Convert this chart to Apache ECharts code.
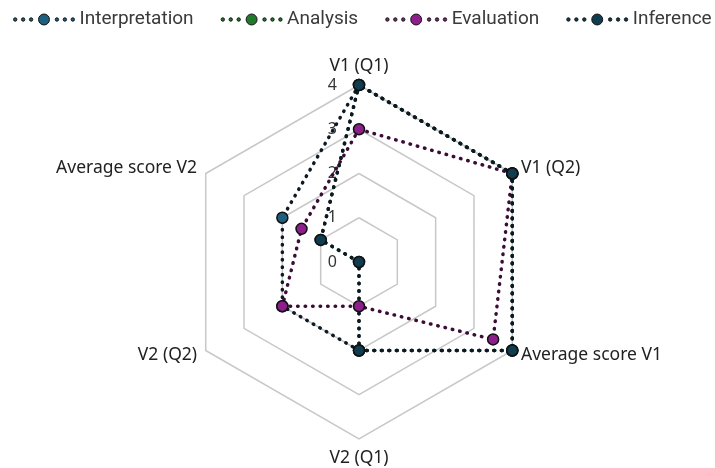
<!DOCTYPE html>
<html>
<head>
<meta charset="utf-8">
<script src="https://cdn.jsdelivr.net/npm/echarts@6/dist/echarts.min.js"></script>
<style>
  html, body { margin: 0; padding: 0; background: #ffffff; }
  #chart { width: 715px; height: 468px; }
</style>
</head>
<body>
<div id="chart"></div>
<script>
// Radar axes, listed clockwise starting from the top
const axisNames = ['V1 (Q1)', 'V1 (Q2)', 'Average score V1', 'V2 (Q1)', 'V2 (Q2)', 'Average score V2'];
const axisMax = 4;
const tickLabels = ['0', '1', '2', '3', '4'];

// Scores per skill, in the same order as axisNames
const seriesNames = ['Interpretation', 'Analysis', 'Evaluation', 'Inference'];
const interpretation = [4, 4, 4, 2, 2, 2];
const analysis = [4, 4, 4, 2, 0, 1];
const evaluation = [3, 4, 3.5, 1, 2, 1.5];
const inference = [4, 4, 4, 2, 0, 1];

const fillColors = ['#1d5f7c', '#1f7a2c', '#8c1f8c', '#0f3c4f'];
const lineColors = ['#0d1a24', '#0c2a12', '#3c0c36', '#0a1a22'];

// ECharts lays radar indicators out counter-clockwise, so walk the axes backwards
const order = [0, 5, 4, 3, 2, 1];
const reorder = arr => order.map(i => arr[i]);

// Legend icon: three dots, a marker, three dots
const legendIcon = 'path://' +
  'M0.3,5.5a1.7,1.7 0 1,0 3.4,0a1.7,1.7 0 1,0 -3.4,0Z' +
  'M8.3,5.5a1.7,1.7 0 1,0 3.4,0a1.7,1.7 0 1,0 -3.4,0Z' +
  'M16.3,5.5a1.7,1.7 0 1,0 3.4,0a1.7,1.7 0 1,0 -3.4,0Z' +
  'M25.5,5.5a5.5,5.5 0 1,0 11,0a5.5,5.5 0 1,0 -11,0Z' +
  'M42.3,5.5a1.7,1.7 0 1,0 3.4,0a1.7,1.7 0 1,0 -3.4,0Z' +
  'M50.3,5.5a1.7,1.7 0 1,0 3.4,0a1.7,1.7 0 1,0 -3.4,0Z' +
  'M58.3,5.5a1.7,1.7 0 1,0 3.4,0a1.7,1.7 0 1,0 -3.4,0Z';

const indicators = reorder(axisNames).map((name, i) => {
  const ind = { name: name, min: 0, max: axisMax };
  if (i === 0) {
    ind.axisLabel = {
      show: true,
      color: '#333333',
      fontSize: 16,
      fontFamily: 'Noto Sans',
      margin: 22,
      formatter: v => tickLabels[v] !== undefined ? tickLabels[v] : ''
    };
  }
  return ind;
});

const values = [interpretation, analysis, evaluation, inference];

const chart = echarts.init(document.getElementById('chart'), null, { renderer: 'canvas' });

chart.setOption({
  animation: false,
  backgroundColor: '#ffffff',
  legend: {
    top: 10,
    left: 13,
    right: 0,
    padding: 0,
    itemWidth: 61,
    itemHeight: 11,
    itemGap: 27,
    icon: legendIcon,
    textStyle: { color: '#3a3a3a', fontSize: 19, fontFamily: 'Roboto' },
    itemStyle: { borderColor: '#111111', borderWidth: 1 },
    data: seriesNames
  },
  radar: {
    center: [359, 262],
    radius: 177,
    startAngle: 90,
    splitNumber: 4,
    shape: 'polygon',
    indicator: indicators,
    axisName: { color: '#222222', fontSize: 17.5, fontFamily: 'Noto Sans' },
    nameGap: 10,
    axisLine: { show: false },
    axisTick: { show: false },
    axisLabel: { show: false },
    splitArea: { show: false },
    splitLine: { lineStyle: { color: '#c8c8c8', width: 1.5 } }
  },
  series: seriesNames.map((name, i) => ({
    type: 'radar',
    name: name,
    symbol: 'circle',
    symbolSize: 11,
    itemStyle: { color: fillColors[i], borderColor: '#111111', borderWidth: 1.5 },
    lineStyle: { color: lineColors[i], width: 3.5, type: [0.5, 7], cap: 'round' },
    data: [{ name: name, value: reorder(values[i]) }]
  }))
});
</script>
</body>
</html>
